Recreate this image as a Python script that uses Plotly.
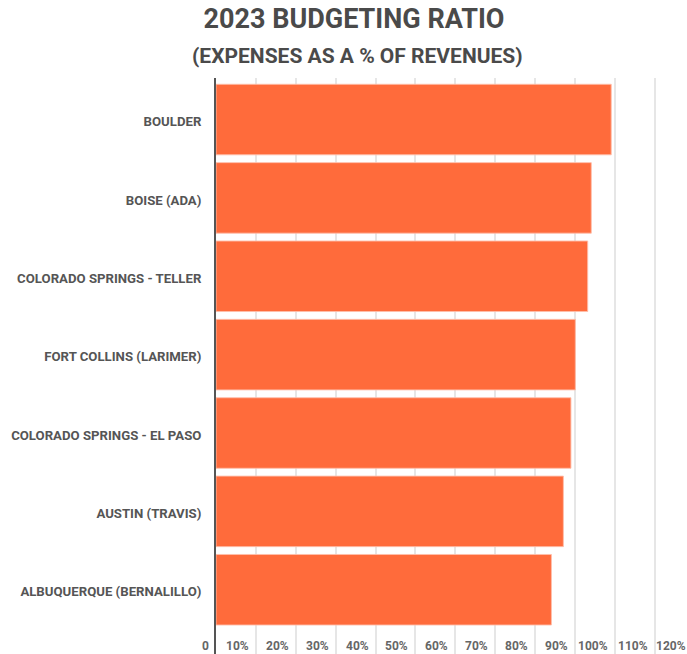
import plotly.graph_objects as go

# Counties, listed bottom-to-top as they appear on the chart
counties = [
    "ALBUQUERQUE (BERNALILLO)",
    "AUSTIN (TRAVIS)",
    "COLORADO SPRINGS - EL PASO",
    "FORT COLLINS (LARIMER)",
    "COLORADO SPRINGS - TELLER",
    "BOISE (ADA)",
    "BOULDER",
]
# Expenses as a percentage of revenues, 2023
ratio_pct = [84.1, 87.1, 89.0, 90.1, 93.2, 94.1, 99.1]

tick_vals = [0, 10, 20, 30, 40, 50, 60, 70, 80, 90, 100, 110]
tick_text = ["0", "10%", "20%", "30%", "40%", "50%", "60%", "70%", "80%", "90%", "100%", "110%"]
last_tick_text = "120%"

BAR = "#FF6B3B"
LABEL = "#555555"
TICK = "#666666"
FONT = "Roboto, 'Open Sans', sans-serif"

fig = go.Figure(
    go.Bar(
        x=ratio_pct,
        y=counties,
        orientation="h",
        marker=dict(color=BAR, line=dict(color="rgba(255,190,170,0.9)", width=1)),
        hoverinfo="skip",
    )
)

# Percent labels sit just left of their gridline, inside the bottom strip of the plot
tick_annotations = [
    dict(
        text="<b>%s</b>" % t,
        font=dict(family=FONT, size=12, color=TICK),
        xref="x", yref="paper",
        x=v, y=0, xanchor="right", yanchor="bottom",
        xshift=-5, yshift=-1, showarrow=False,
    )
    for v, t in zip(tick_vals, tick_text)
]
tick_annotations.append(
    dict(
        text="<b>%s</b>" % last_tick_text,
        font=dict(family=FONT, size=12, color=TICK),
        xref="paper", yref="paper",
        x=1, y=0, xanchor="right", yanchor="bottom",
        xshift=1, yshift=-1, showarrow=False,
    )
)

fig.update_layout(
    width=687,
    height=654,
    margin=dict(l=216, r=0, t=78, b=0),
    paper_bgcolor="white",
    plot_bgcolor="white",
    bargap=0.1,
    showlegend=False,
    font=dict(family=FONT, color=LABEL, size=12),
    title=dict(
        text="<b>2023 BUDGETING RATIO</b>",
        font=dict(family=FONT, size=27, color="#4a4a4a"),
        x=354 / 687,
        xanchor="center",
        y=1 - 19 / 654,
        yanchor="middle",
        xref="container",
        yref="container",
    ),
    annotations=[
        dict(
            text="<b>(EXPENSES AS A % OF REVENUES)</b>",
            font=dict(family=FONT, size=21, color="#4a4a4a"),
            xref="paper", yref="paper",
            x=(357.5 - 216) / 471, y=(654 - 55.5) / 576,
            xanchor="center", yanchor="middle",
            showarrow=False,
        ),
    ] + tick_annotations,
)

fig.update_xaxes(
    range=[0, 118.1],
    tickvals=tick_vals,
    showticklabels=False,
    showgrid=True,
    gridcolor="#e6e6e6",
    gridwidth=1.5,
    zeroline=False,
    showline=False,
    ticks="",
    fixedrange=True,
)

fig.update_yaxes(
    type="category",
    range=[-0.82, 6.53],
    tickvals=counties,
    ticktext=["<b>%s</b>" % c for c in counties],
    tickfont=dict(family=FONT, size=13.2, color=LABEL),
    showgrid=False,
    zeroline=False,
    showline=True,
    linecolor="#555555",
    linewidth=2,
    ticks="",
    ticklabelstandoff=10,
    ticklabelshift=2,
    fixedrange=True,
)

fig.write_html("out.html")
